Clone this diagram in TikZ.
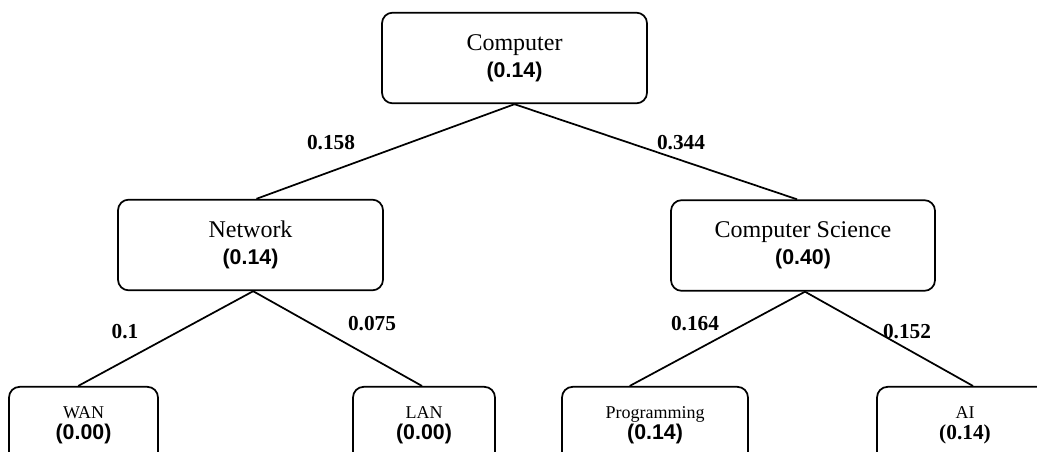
\documentclass[tikz,border=0pt]{standalone}
\usepackage{fontspec}
\setmainfont{Liberation Serif}
\newfontfamily\arialfont{Liberation Sans}
\begin{document}
\begin{tikzpicture}[x=0.75pt,y=-0.75pt,
  box/.style={draw,line width=1.3pt,rounded corners=8pt,inner sep=0pt,align=center},
  bigbox/.style={box,minimum height=68pt,font=\fontsize{18}{20}\selectfont},
  smallbox/.style={box,minimum height=53.25pt,font=\fontsize{13.5}{16}\selectfont},
  wlabel/.style={inner sep=0pt,font=\bfseries\fontsize{16}{16}\selectfont},
  conn/.style={line width=1.3pt}]
\useasboundingbox (0,0) rectangle (1037,452);
\clip (0,0) rectangle (1037,452);
\node[bigbox,minimum width=198.75pt] (comp) at (514.5,58) {Computer\\{\arialfont\bfseries\fontsize{16}{20}\selectfont (0.14)}};
\node[bigbox,minimum width=198.75pt] (net) at (250.5,245) {Network\\{\arialfont\bfseries\fontsize{16}{20}\selectfont (0.14)}};
\node[bigbox,minimum width=198pt] (cs) at (803,245.5) {Computer Science\\{\arialfont\bfseries\fontsize{16}{20}\selectfont (0.40)}};
\node[smallbox,minimum width=111.75pt,minimum height=58pt] (wan) at (83.5,425.5) {WAN\\{\arialfont\bfseries\fontsize{16}{16}\selectfont (0.00)}};
\node[smallbox,minimum width=106.5pt,minimum height=58pt] (lan) at (424,425.5) {LAN\\{\arialfont\bfseries\fontsize{16}{16}\selectfont (0.00)}};
\node[smallbox,minimum width=139.5pt,minimum height=58pt] (prog) at (655,425.5) {Programming\\{\arialfont\bfseries\fontsize{16}{16}\selectfont (0.14)}};
\node[smallbox,minimum width=132pt,minimum height=58pt] (ai) at (965,425.5) {AI\\{\bfseries\fontsize{16}{16}\selectfont (0.14)}};
\draw[conn] (comp.south) -- ([xshift=4.5pt]net.north);
\draw[conn] (comp.south) -- ([xshift=-4.5pt]cs.north);
\draw[conn] ([xshift=2pt]net.south) -- ([xshift=-4pt]wan.north);
\draw[conn] ([xshift=2pt]net.south) -- ([xshift=-1.5pt]lan.north);
\draw[conn] ([xshift=1.5pt]cs.south) -- ([xshift=-19pt]prog.north);
\draw[conn] ([xshift=1.5pt]cs.south) -- ([xshift=6pt]ai.north);
\node[wlabel] (l1) at (331,143) {0.158};
\node[wlabel] (l2) at (681,143) {0.344};
\node[wlabel] (l3) at (125,332) {0.1};
\node[wlabel] (l4) at (372,324) {0.075};
\node[wlabel] (l5) at (695,324) {0.164};
\node[wlabel] (l6) at (907,332) {0.152};
\end{tikzpicture}
\end{document}
